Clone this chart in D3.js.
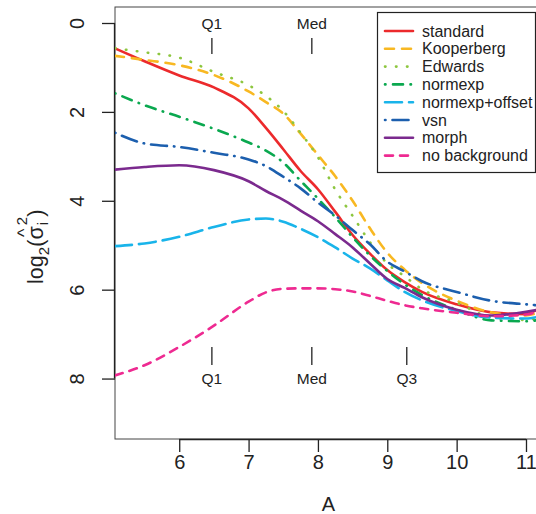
<!DOCTYPE html>
<html>
<head>
<meta charset="utf-8">
<script src="https://cdn.jsdelivr.net/npm/d3@7"></script>
<style>
  body { margin: 0; background: #fff; }
  text { font-family: "Liberation Sans", Arial, sans-serif; fill: #222; }
</style>
</head>
<body>
<svg id="chart" width="536" height="514"></svg>
<script>
// average log-intensity grid (x) and log2 residual variance per method (y)
var aValues = [5.074, 5.5, 6, 6.5, 7, 7.25, 7.5, 7.75, 8, 8.25, 8.5, 8.75, 9, 9.25, 9.5, 10, 10.5, 11, 11.15];

var standard     = [0.57, 0.86, 1.18, 1.45, 1.92, 2.36, 2.84, 3.33, 3.74, 4.25, 4.77, 5.19, 5.56, 5.83, 6.05, 6.33, 6.51, 6.55, 6.46];
var kooperberg   = [0.74, 0.83, 0.95, 1.17, 1.54, 1.78, 2.04, 2.49, 2.97, 3.45, 4.00, 4.62, 5.17, 5.55, 5.85, 6.25, 6.51, 6.58, 6.53];
var edwards      = [0.57, 0.66, 0.78, 1.10, 1.40, 1.64, 1.98, 2.47, 3.02, 3.75, 4.34, 4.93, 5.41, 5.70, 5.99, 6.29, 6.62, 6.68, 6.64];
var normexp      = [1.58, 1.85, 2.11, 2.38, 2.69, 2.87, 3.14, 3.55, 3.95, 4.37, 4.82, 5.23, 5.58, 5.88, 6.12, 6.45, 6.69, 6.71, 6.69];
var normexpOff   = [5.02, 4.96, 4.81, 4.59, 4.42, 4.40, 4.47, 4.63, 4.82, 5.05, 5.30, 5.52, 5.79, 6.05, 6.24, 6.48, 6.63, 6.65, 6.62];
var vsn          = [2.47, 2.71, 2.79, 2.92, 3.07, 3.22, 3.46, 3.72, 4.04, 4.33, 4.66, 4.98, 5.37, 5.59, 5.81, 6.05, 6.25, 6.33, 6.35];
var morph        = [3.30, 3.24, 3.20, 3.31, 3.56, 3.78, 3.98, 4.22, 4.46, 4.75, 5.05, 5.41, 5.76, 5.96, 6.17, 6.45, 6.58, 6.50, 6.46];
var noBackground = [7.93, 7.70, 7.29, 6.81, 6.27, 6.06, 5.98, 5.97, 5.97, 5.99, 6.04, 6.14, 6.25, 6.35, 6.42, 6.52, 6.60, 6.56, 6.50];

var methodNames = ['standard', 'Kooperberg', 'Edwards', 'normexp', 'normexp+offset', 'vsn', 'morph', 'no background'];
var methodValues = [standard, kooperberg, edwards, normexp, normexpOff, vsn, morph, noBackground];
var methodColors = ['#ec2a2c', '#f8b822', '#8dc63f', '#0aa84f', '#19b4ea', '#1c5fae', '#7b2a8e', '#ee2a91'];
var methodDashes = ['', '9,8', '0.5,10.5', '0.5,7.5,10,7.5', '17,7', '0.5,7,16,7', '', '8,7'];

var xTicks = [6, 7, 8, 9, 10, 11];
var yTicks = [0, 2, 4, 6, 8];
var quantileNames = ['Q1', 'Med', 'Q3'];
var quantileValues = [6.471, 7.912, 9.281];

var svg = d3.select('#chart');
var plotLeft = 115, plotRight = 545, plotTop = 7, plotBottom = 439;

var x = d3.scaleLinear().domain([5.074, 11.274]).range([plotLeft, plotRight]);
var y = d3.scaleLinear().domain([-0.36, 9.36]).range([plotTop, plotBottom]);

svg.append('defs').append('clipPath').attr('id', 'plotclip')
  .append('rect').attr('x', plotLeft).attr('y', plotTop)
  .attr('width', plotRight - plotLeft).attr('height', plotBottom - plotTop);

// plot box
svg.append('rect')
  .attr('x', plotLeft).attr('y', plotTop)
  .attr('width', plotRight - plotLeft).attr('height', plotBottom - plotTop)
  .attr('fill', 'none').attr('stroke', '#444').attr('stroke-width', 1);

// axes
var xAxis = d3.axisBottom(x).tickValues(xTicks).tickSize(13).tickPadding(3).tickFormat(d3.format('d'));
var gx = svg.append('g').attr('transform', 'translate(0,' + plotBottom + ')').call(xAxis);
gx.select('.domain').attr('d', 'M' + x(6) + ',0.5H' + x(11)).attr('stroke', '#222').attr('stroke-width', 1.3);
gx.selectAll('.tick line').attr('stroke', '#222').attr('stroke-width', 1.3);
gx.selectAll('.tick text').attr('font-size', 20).attr('font-family', '"Liberation Sans", Arial, sans-serif')
  .attr('fill', '#222').attr('dy', '0.71em');

var yAxis = d3.axisLeft(y).tickValues(yTicks).tickSize(13).tickFormat(d3.format('d'));
var gy = svg.append('g').attr('transform', 'translate(' + plotLeft + ',0)').call(yAxis);
gy.select('.domain').attr('d', 'M-0.5,' + y(0) + 'V' + y(8)).attr('stroke', '#222').attr('stroke-width', 1.3);
gy.selectAll('.tick line').attr('stroke', '#222').attr('stroke-width', 1.3);
gy.selectAll('.tick text')
  .attr('font-size', 20).attr('font-family', '"Liberation Sans", Arial, sans-serif').attr('fill', '#222')
  .attr('x', null).attr('dy', null)
  .attr('text-anchor', 'middle')
  .attr('transform', 'translate(-38,0) rotate(-90) translate(0,7)');

// x label
svg.append('text').attr('x', x(8.15)).attr('y', 511)
  .attr('text-anchor', 'middle').attr('font-size', 20).text('A');

// y label: log2(sigma-hat_i^2), laid out piece by piece
var ylab = svg.append('g').attr('transform', 'translate(43,284) rotate(-90)');
var cursor = 0;
function piece(str, size, dy, advance) {
  var t = ylab.append('text').attr('x', cursor).attr('y', dy).attr('font-size', size).text(str);
  var w = t.node().getComputedTextLength();
  if (advance !== false) cursor += w;
  return w;
}
piece('log', 21.5, 0);
piece('2', 15, 6);
piece('(', 22.5, 0);
var sigmaStart = cursor;
var sw = piece('\u03c3', 21.5, 0);
ylab.append('text').attr('x', sigmaStart + sw / 2).attr('y', -13).attr('font-size', 18)
  .attr('text-anchor', 'middle').text('^');
cursor += 1;
piece('i', 15, 5, false);
piece('2', 15, -16);
piece(')', 22.5, 0);

// quantile markers
var qMarks = svg.append('g');
quantileNames.forEach(function(name, i) {
  var qx = x(quantileValues[i]);
  qMarks.append('line').attr('x1', qx).attr('x2', qx).attr('y1', 38).attr('y2', 54)
    .attr('stroke', '#222').attr('stroke-width', 1.3);
  qMarks.append('text').attr('x', qx).attr('y', 29).attr('text-anchor', 'middle')
    .attr('font-size', 15.5).text(name);
  qMarks.append('line').attr('x1', qx).attr('x2', qx).attr('y1', 347).attr('y2', 365)
    .attr('stroke', '#222').attr('stroke-width', 1.3);
  qMarks.append('text').attr('x', qx).attr('y', 384).attr('text-anchor', 'middle')
    .attr('font-size', 15.5).text(name);
});

// curves
var line = d3.line()
  .x(function(d) { return x(d[0]); })
  .y(function(d) { return y(d[1]); })
  .curve(d3.curveMonotoneX);

var curves = svg.append('g').attr('clip-path', 'url(#plotclip)');
methodNames.forEach(function(name, i) {
  var pts = aValues.map(function(a, j) { return [a, methodValues[i][j]]; });
  curves.append('path')
    .attr('d', line(pts))
    .attr('fill', 'none')
    .attr('stroke', methodColors[i])
    .attr('stroke-width', 2.6)
    .attr('stroke-linecap', 'round')
    .attr('stroke-dasharray', methodDashes[i] || null);
});

// legend
var legend = svg.append('g');
legend.append('rect').attr('x', 377.5).attr('y', 12.5).attr('width', 158).attr('height', 160)
  .attr('fill', '#fff').attr('stroke', '#222').attr('stroke-width', 1.2);
methodNames.forEach(function(name, i) {
  var ly = 31 + i * 17.8;
  legend.append('line').attr('x1', 385).attr('x2', 413).attr('y1', ly).attr('y2', ly)
    .attr('stroke', methodColors[i]).attr('stroke-width', 2.6)
    .attr('stroke-linecap', 'round')
    .attr('stroke-dasharray', methodDashes[i] || null);
  legend.append('text').attr('x', 422).attr('y', ly + 5.5).attr('font-size', 16).text(name);
});
</script>
</body>
</html>
